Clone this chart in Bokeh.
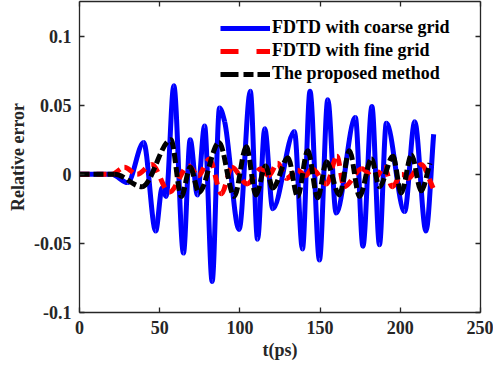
import numpy as np
from bokeh.plotting import figure
from bokeh.models import (Range1d, LinearAxis, FixedTicker, Legend, LegendItem,
                          ColumnDataSource, CustomJSTickFormatter)
from bokeh.embed import file_html
from bokeh.resources import INLINE

# ---------------- data ----------------
series_names = ["FDTD with coarse grid", "FDTD with fine grid", "The proposed method"]

coarse_t = [0, 20, 30, 40, 47.5, 51.5, 54, 58.8, 64.8, 69, 73.5, 78, 82.7, 87.3, 90.5,
            99.5, 106.5, 111, 115.5, 120.5, 134, 139, 143.7, 149.6, 154.8, 160, 172,
            176.7, 182.3, 187, 191.3, 202.7, 209, 216, 220.8]
coarse_v = [0, 0, -0.006, 0.023, -0.041, -0.010, -0.016, 0.064, -0.057, 0.025, -0.015,
            0.035, -0.0775, 0.048, 0.038, -0.040, 0.060, -0.047, 0.033, -0.025, 0.031,
            -0.054, 0.060, -0.062, 0.054, -0.028, 0.041, -0.052, 0.049, -0.051, 0.037,
            -0.027, 0.038, -0.041, 0.029]

fine_t = [0, 20, 28, 36, 45, 56, 68, 74, 81, 88.5, 95, 104.5, 113, 118, 123.5, 129,
          136, 141, 145, 154, 160.5, 165, 176, 184, 190, 195, 201, 205, 213, 220.5]
fine_v = [0, 0, 0.005, 0.0, 0.007, -0.013, 0.006, -0.001, 0.011, -0.014, 0.005, -0.007,
          0.004, -0.001, 0.008, -0.003, 0.003, -0.001, 0.004, -0.007, 0.013, -0.009,
          0.004, -0.003, 0.005, -0.009, 0.000, -0.003, 0.007, -0.010]

prop_t = [0, 22, 39, 57, 63.5, 69, 74.5, 87, 96.5, 104, 110, 116, 120.5, 130, 136,
          142.3, 148.5, 154, 162, 168.3, 174.6, 182, 187, 195.4, 200.6, 207, 213, 218.5]
prop_v = [0, 0, -0.009, 0.025, -0.016, 0.005, -0.013, 0.023, -0.016, 0.020, -0.015,
          0.006, -0.010, 0.012, -0.016, 0.017, -0.017, 0.009, -0.015, 0.017, -0.016,
          0.011, -0.009, 0.013, -0.0135, 0.014, -0.012, 0.008]

x_ticks = [0, 50, 100, 150, 200, 250]
y_ticks = [-0.1, -0.05, 0, 0.05, 0.1]
y_tick_labels = ["-0.1", "-0.05", "0", "0.05", "0.1"]


def bezier_source(t, v):
    """Smooth curve through the read points: monotone cubic segments drawn as Bezier glyphs."""
    t = np.asarray(t, float)
    v = np.asarray(v, float)
    n = len(t)
    h = np.diff(t)
    d = np.diff(v) / h
    m = np.zeros(n)
    for i in range(1, n - 1):
        if d[i - 1] * d[i] > 0:
            m[i] = 2.0 / (1.0 / d[i - 1] + 1.0 / d[i])
    m[-1] = d[-1]
    return ColumnDataSource(dict(
        x0=t[:-1], y0=v[:-1], x1=t[1:], y1=v[1:],
        cx0=t[:-1] + h / 3, cy0=v[:-1] + m[:-1] * h / 3,
        cx1=t[1:] - h / 3, cy1=v[1:] - m[1:] * h / 3))


FONT = "Liberation Serif"
AX = "#262626"

p = figure(width=493, height=370, x_range=Range1d(0, 250), y_range=Range1d(-0.1, 0.125),
           output_backend="svg", toolbar_location=None,
           min_border_left=79, min_border_right=13, min_border_top=1, min_border_bottom=58)
p.outline_line_color = None
p.xgrid.visible = False
p.ygrid.visible = False
p.background_fill_color = "white"

blue, red, black = "#0000FF", "#FF0000", "#000000"
kw = dict(x0="x0", y0="y0", x1="x1", y1="y1", cx0="cx0", cy0="cy0", cx1="cx1", cy1="cy1")
p.bezier(source=bezier_source(coarse_t, coarse_v), line_color=blue, line_width=5, **kw)
p.bezier(source=bezier_source(fine_t, fine_v), line_color=red, line_width=5,
         line_dash="10 7", **kw)
p.bezier(source=bezier_source(prop_t, prop_v), line_color=black, line_width=5,
         line_dash="10 4", **kw)

# legend entries (hidden line renderers carrying the same series, used only for the key)
l1 = p.line(x=coarse_t, y=coarse_v, line_color=blue, line_width=5, visible=False)
l2 = p.line(x=fine_t, y=fine_v, line_color=red, line_width=5, line_dash="18 18",
            visible=False)
l3 = p.line(x=prop_t, y=prop_v, line_color=black, line_width=5, line_dash="18 5 10 4",
            visible=False)
legend = Legend(items=[LegendItem(label=series_names[0], renderers=[l1]),
                       LegendItem(label=series_names[1], renderers=[l2]),
                       LegendItem(label=series_names[2], renderers=[l3])],
                location=(141, 228), margin=0, padding=0, spacing=2,
                glyph_width=50, glyph_height=20, label_height=20, label_standoff=2,
                label_text_font=FONT, label_text_font_style="bold",
                label_text_font_size="18px", label_text_color="black",
                border_line_color=None, background_fill_alpha=0,
                click_policy="none")
p.add_layout(legend)


def style_axis(ax):
    ax.axis_line_color = AX
    ax.axis_line_width = 1.3
    ax.major_tick_line_color = AX
    ax.major_tick_line_width = 1.3
    ax.major_tick_in = 5
    ax.major_tick_out = 0
    ax.minor_tick_in = 0
    ax.minor_tick_out = 0
    ax.major_label_text_font = FONT
    ax.major_label_text_font_style = "bold"
    ax.major_label_text_font_size = "18px"
    ax.major_label_text_color = AX
    ax.axis_label_text_font = FONT
    ax.axis_label_text_font_style = "bold"
    ax.axis_label_text_font_size = "18px"
    ax.axis_label_text_color = AX


xa = p.xaxis[0]
ya = p.yaxis[0]
xa.ticker = FixedTicker(ticks=x_ticks)
ya.ticker = FixedTicker(ticks=y_ticks)
ya.major_label_overrides = {t: s for t, s in zip(y_ticks, y_tick_labels)}
style_axis(xa)
style_axis(ya)
xa.axis_label = "t(ps)"
ya.axis_label = "Relative error"
xa.major_label_standoff = 8
ya.major_label_standoff = 8
xa.axis_label_standoff = 3
ya.axis_label_standoff = 3

top = LinearAxis(ticker=FixedTicker(ticks=x_ticks))
right = LinearAxis(ticker=FixedTicker(ticks=y_ticks))
for ax in (top, right):
    style_axis(ax)
    ax.formatter = CustomJSTickFormatter(code="return '';")
    ax.major_label_standoff = 0
    ax.axis_label = None
p.add_layout(top, "above")
p.add_layout(right, "right")

open("out.html", "w").write(file_html(p, INLINE))
